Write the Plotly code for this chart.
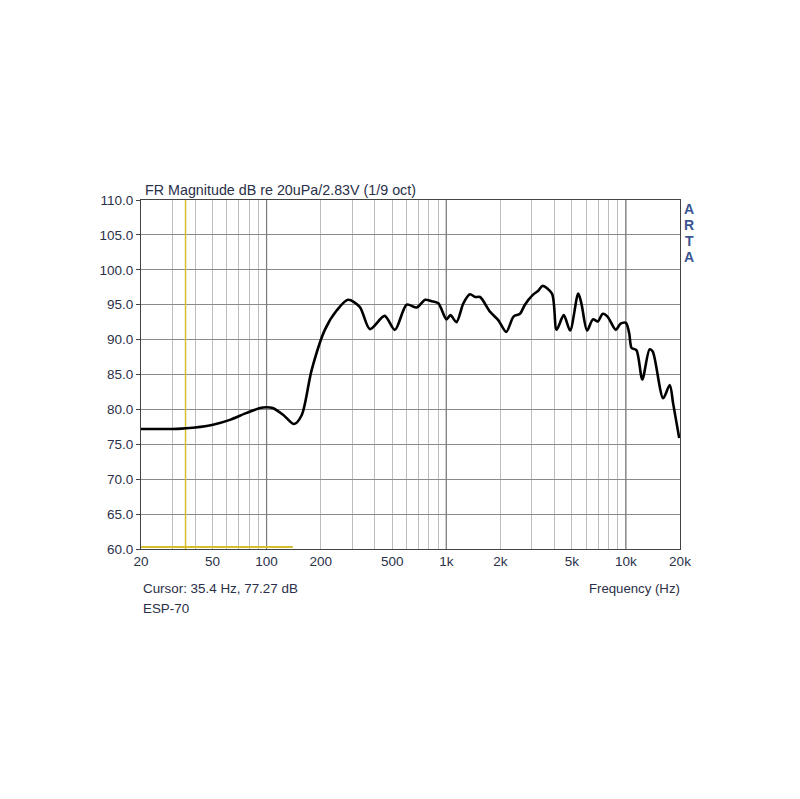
import plotly.graph_objects as go

# Frequency response data
freq_hz = [20, 25, 30, 33.7, 40, 50.3, 62.5, 77.4, 92, 100, 108, 124, 142, 157, 178, 211, 246, 284,
           330, 376, 454, 518, 602, 686, 763, 830, 904, 1002, 1055, 1140, 1245, 1355, 1450, 1542,
           1752, 1948, 2157, 2368, 2574, 2740, 3034, 3250, 3440, 3877, 4112, 4508, 4890, 5426,
           5650, 6080, 6550, 6980, 7430, 7900, 8784, 9340, 10000, 10430, 10760, 11440, 12340,
           13540, 14100, 16120, 17540, 18300, 19800]
mag_db = [77.2, 77.2, 77.2, 77.25, 77.4, 77.8, 78.5, 79.5, 80.2, 80.3, 80.2, 79.2, 77.9, 79.2,
          85.6, 91.4, 94.2, 95.7, 94.7, 91.5, 93.4, 91.4, 95.0, 94.6, 95.7, 95.5, 95.2, 92.9,
          93.5, 92.5, 95.2, 96.5, 96.1, 96.1, 94.0, 92.8, 91.1, 93.3, 93.7, 95.0, 96.4, 97.0,
          97.7, 96.6, 91.4, 93.5, 91.3, 96.6, 95.2, 91.3, 92.9, 92.6, 93.7, 93.3, 91.4, 92.3,
          92.4, 90.9, 88.8, 88.5, 84.3, 88.6, 88.3, 81.6, 83.5, 80.9, 75.9]

cursor_hz = 35.4
cursor_db = 77.27
cursor_bar_hz = [20, 140]
cursor_bar_db = [60.3, 60.3]

grid_freqs = [20, 30, 40, 50, 60, 70, 80, 90, 100, 200, 300, 400, 500, 600, 700, 800, 900,
              1000, 2000, 3000, 4000, 5000, 6000, 7000, 8000, 9000, 10000, 20000]
label_map = {20: "20", 50: "50", 100: "100", 200: "200", 500: "500", 1000: "1k",
             2000: "2k", 5000: "5k", 10000: "10k", 20000: "20k"}
decade_freqs = [100, 1000, 10000]
y_ticks = [60, 65, 70, 75, 80, 85, 90, 95, 100, 105, 110]
brand_letters = ["A", "R", "T", "A"]

FONT = "Liberation Sans, Arial, sans-serif"
TXT = "#2a3048"
YEL = "#d6bf2e"

fig = go.Figure()

# decade gridlines (darker)
for f in decade_freqs:
    fig.add_trace(go.Scatter(x=[f, f], y=[60, 110], mode="lines",
                             line=dict(color="#7a7a7a", width=1.2),
                             hoverinfo="skip", showlegend=False))

fig.add_trace(go.Scatter(x=[cursor_hz, cursor_hz], y=[60, 110], mode="lines",
                         line=dict(color=YEL, width=1.5), showlegend=False))
fig.add_trace(go.Scatter(x=cursor_bar_hz, y=cursor_bar_db, mode="lines",
                         line=dict(color=YEL, width=2), showlegend=False))

fig.add_trace(go.Scatter(x=freq_hz, y=mag_db, mode="lines",
                         line=dict(color="black", width=2.6, shape="spline", smoothing=0.8),
                         showlegend=False))

fig.update_xaxes(type="log", range=[1.30103, 4.30103],
                 tickvals=grid_freqs, ticktext=[label_map.get(f, "") for f in grid_freqs],
                 showgrid=True, gridcolor="#bdbdbd", gridwidth=1,
                 showline=True, linecolor="#444", linewidth=1.2, mirror=True,
                 ticks="", zeroline=False,
                 tickfont=dict(family=FONT, size=13.5, color=TXT))
fig.update_yaxes(range=[60, 110], tickvals=y_ticks,
                 ticktext=[f"{v:.1f}" for v in y_ticks],
                 showgrid=True, gridcolor="#8a8a8a", gridwidth=1,
                 showline=True, linecolor="#444", linewidth=1.2, mirror=True,
                 ticks="outside", ticklen=4, tickcolor="#444", zeroline=False,
                 tickfont=dict(family=FONT, size=13.5, color=TXT))

ann = [
    dict(text="FR Magnitude dB re 20uPa/2.83V (1/9 oct)", x=0, y=1, xref="paper", yref="paper",
         xanchor="left", yanchor="bottom", yshift=0, xshift=2, showarrow=False,
         font=dict(family=FONT, size=14.3, color=TXT)),
    dict(text="Cursor: 35.4 Hz, 77.27 dB", x=0, y=0, xref="paper", yref="paper",
         xanchor="left", yanchor="top", yshift=-30, showarrow=False,
         font=dict(family=FONT, size=13.4, color=TXT)),
    dict(text="ESP-70", x=0, y=0, xref="paper", yref="paper",
         xanchor="left", yanchor="top", yshift=-50, showarrow=False,
         font=dict(family=FONT, size=13.4, color=TXT)),
    dict(text="Frequency (Hz)", x=1, y=0, xref="paper", yref="paper",
         xanchor="right", yanchor="top", yshift=-30, xshift=2, showarrow=False,
         font=dict(family=FONT, size=13.2, color=TXT)),
]
for i, ch in enumerate(brand_letters):
    ann.append(dict(text=f"<b>{ch}</b>", x=1, y=1, xref="paper", yref="paper",
                    xanchor="center", yanchor="middle", xshift=9, yshift=-9 - 16 * i,
                    showarrow=False, font=dict(family=FONT, size=14, color="#3b5590")))

fig.update_layout(width=800, height=799, margin=dict(l=141, r=120, t=200, b=250),
                  paper_bgcolor="white", plot_bgcolor="white", annotations=ann,
                  showlegend=False)

fig.write_html("out.html")
